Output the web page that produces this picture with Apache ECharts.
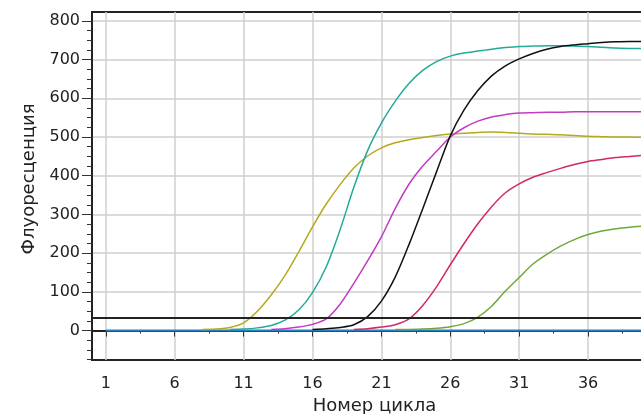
<!DOCTYPE html>
<html>
<head>
<meta charset="utf-8">
<script src="https://cdn.jsdelivr.net/npm/echarts@6.0.0/dist/echarts.min.js"></script>
<style>
  html, body { margin: 0; padding: 0; background: #fff; }
  .diagram { width: 641px; height: 414px; }
</style>
</head>
<body>
<div class="diagram"></div>
<script>
// кривые амплификации

// номер цикла
const cycles = [1, 2, 3, 4, 5, 6, 7, 8, 9, 10, 11, 12, 13, 14, 15, 16, 17, 18, 19, 20,
  21, 22, 23, 24, 25, 26, 27, 28, 29, 30, 31, 32, 33, 34, 35, 36, 37, 38, 39, 40];

const olive = [null, null, null, null, null, null, null, 3, 4, 8, 20, 50, 92, 142, 203, 268, 327, 377, 420, 451,
  472, 485, 493, 499, 504, 508, 510, 512, 513, 512, 510, 508, 507, 506, 504, 502, 501, 500, 500, 499];
const teal = [null, null, null, null, null, null, null, null, null, 3, 4, 7, 13, 27, 53, 98, 165, 260, 370, 465,
  536, 592, 638, 672, 695, 709, 717, 722, 727, 731, 734, 735, 736, 736, 735, 734, 732, 730, 729, 729];
const magenta = [null, null, null, null, null, null, null, null, null, null, null, null, 3, 5, 9, 16, 30, 68, 122, 180,
  242, 315, 378, 425, 463, 500, 524, 541, 552, 558, 562, 563, 564, 564, 565, 565, 565, 565, 565, 565];
const black = [null, null, null, null, null, null, null, null, null, null, null, null, null, null, null, 3, 5, 8, 15, 36,
  76, 138, 222, 315, 410, 503, 570, 620, 658, 684, 702, 716, 727, 734, 738, 741, 744, 746, 747, 747];
const crimson = [null, null, null, null, null, null, null, null, null, null, null, null, null, null, null, null, null, null, 3, 5,
  9, 15, 30, 65, 113, 170, 225, 276, 320, 356, 379, 396, 408, 419, 429, 437, 442, 447, 450, 453];
const green = [null, null, null, null, null, null, null, null, null, null, null, null, null, null, null, null, null, null, null, null,
  null, 3, 3, 4, 6, 10, 18, 35, 63, 102, 137, 172, 197, 218, 235, 248, 257, 263, 267, 270];
const baseline = [0, 0, 0, 0, 0, 0, 0, 0, 0, 0, 0, 0, 0, 0, 0, 0, 0, 0, 0, 0,
  0, 0, 0, 0, 0, 0, 0, 0, 0, 0, 0, 0, 0, 0, 0, 0, 0, 0, 0, 0];

// порог
const threshold = 34;

// подписи осей
const xTicks = [1, 6, 11, 16, 21, 26, 31, 36, 41];
const xMinorTicks = [3.5, 8.5, 13.5, 18.5, 23.5, 28.5, 33.5, 38.5];
const yTicks = [0, 100, 200, 300, 400, 500, 600, 700, 800];
const yMinorTicks = [-75, -50, -25, 25, 50, 75, 125, 150, 175, 225, 250, 275, 325, 350, 375,
  425, 450, 475, 525, 550, 575, 625, 650, 675, 725, 750, 775];

(function () {
  let myChart = echarts.init(document.querySelector('.diagram'));

  function pairs(arr) {
    return cycles.map(function (c, i) { return [c, arr[i]]; });
  }

  function curve(arr, color) {
    return {
      type: 'line',
      data: pairs(arr),
      smooth: 0.3,
      showSymbol: false,
      lineStyle: { color: color, width: 1.5 },
      itemStyle: { color: color },
      z: 3
    };
  }

  const font = 'DejaVu Sans';

  option = {
    animation: false,
    backgroundColor: '#fff',
    grid: {
      left: 92, top: 12, right: -16, bottom: 54,
      outerBoundsMode: 'none',
      containLabel: false,
      show: true,
      borderColor: '#222',
      borderWidth: 2
    },
    xAxis: [
      {
        type: 'value',
        min: 0,
        max: 41,
        name: 'Номер цикла',
        nameLocation: 'middle',
        nameGap: 37,
        nameTextStyle: { fontFamily: font, fontSize: 18, color: '#222' },
        axisLine: { show: true, lineStyle: { color: '#222', width: 2 } },
        axisTick: { customValues: xTicks, length: 6, lineStyle: { color: '#333' } },
        axisLabel: { customValues: xTicks, margin: 16, fontFamily: font, fontSize: 16, color: '#222' },
        splitLine: { show: true, lineStyle: { color: '#cfcfcf', width: 1.5 } }
      },
      {
        type: 'value',
        min: 0,
        max: 41,
        position: 'bottom',
        axisLine: { show: false },
        axisTick: { customValues: xMinorTicks, length: 3, lineStyle: { color: '#333' } },
        axisLabel: { show: false },
        splitLine: { show: false }
      }
    ],
    yAxis: [
      {
        type: 'value',
        min: -76,
        max: 823,
        name: 'Флуоресценция',
        nameLocation: 'middle',
        nameGap: 50,
        nameTextStyle: { fontFamily: font, fontSize: 18, color: '#222', padding: [0, 0, 0, 14] },
        axisLine: { show: true, lineStyle: { color: '#222', width: 2 } },
        axisTick: { customValues: yTicks, length: 10, lineStyle: { color: '#333' } },
        axisLabel: { customValues: yTicks, margin: 12, fontFamily: font, fontSize: 16, color: '#222' },
        splitLine: { show: true, lineStyle: { color: '#cfcfcf', width: 1.5 } }
      },
      {
        type: 'value',
        min: -76,
        max: 823,
        position: 'left',
        axisLine: { show: false },
        axisTick: { customValues: yMinorTicks, length: 5, lineStyle: { color: '#333' } },
        axisLabel: { show: false },
        splitLine: { show: false }
      }
    ],
    series: [
      {
        type: 'line',
        data: pairs(baseline),
        showSymbol: false,
        lineStyle: { color: '#2a7fc4', width: 2 },
        z: 2,
        markLine: {
          silent: true,
          symbol: 'none',
          label: { show: false },
          lineStyle: { color: '#222', type: 'solid', width: 2 },
          data: [{ yAxis: threshold }]
        }
      },
      curve(olive, '#b4aa1c'),
      curve(teal, '#22ab9a'),
      curve(magenta, '#c23cc2'),
      curve(black, '#111111'),
      curve(crimson, '#d2286a'),
      curve(green, '#6fa83a')
    ]
  };

  myChart.setOption(option);
})();
</script>
</body>
</html>
